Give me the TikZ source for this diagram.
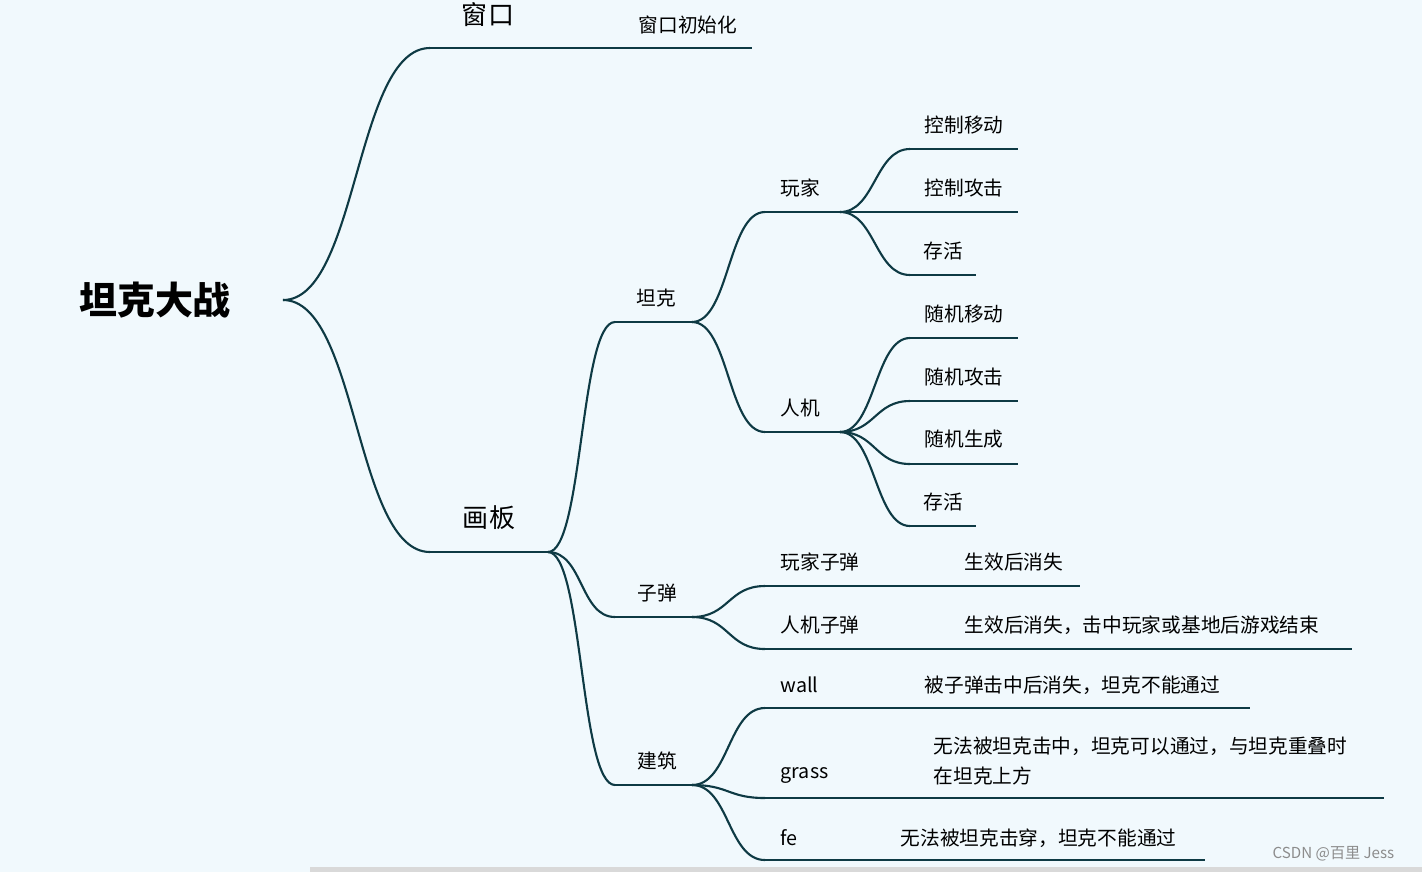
\documentclass[tikz,border=0pt]{standalone}
\usepackage{fontspec}
\setmainfont{Noto Sans CJK SC}
\usetikzlibrary{calc}
\definecolor{bg}{HTML}{F1F9FD}
\definecolor{ln}{HTML}{0E3A44}
\tikzset{
 br/.style={draw=ln,line width=0.6pt},
 lab/.style={inner sep=0pt,font=\fontsize{5.6}{6.8}\selectfont,text=black},
 llab/.style={lab,anchor=west},
}
\newcommand{\crv}[3]{\draw[br] (#1) .. controls ($(#1)+(#3,0)$) and ($(#2)-(#3,0)$) .. (#2);}
\begin{document}
\begin{tikzpicture}[x=0.01cm,y=-0.01cm]
\fill[bg] (0,0) rectangle (1422,872);
\useasboundingbox (0,0) rectangle (1422,872);
\fill[black!15] (310,867) rectangle (1422,872);
% root
\node[inner sep=0pt,font=\fontsize{10.8}{12}\selectfont\bfseries] (root) at (155,300) {坦克大战};
\coordinate (r0) at (283,300);
% level 1
\coordinate (w1) at (430,48); \coordinate (w2) at (752,48);
\coordinate (h1) at (430,552); \coordinate (h2) at (548,552);
\crv{r0}{w1}{75} \crv{r0}{h1}{75}
\draw[br] (w1)--(w2); \draw[br] (h1)--(h2);
\node[lab,font=\fontsize{7.4}{8}\selectfont] (win) at (488,15) {窗口};
\node[lab] (wininit) at (688,25) {窗口初始化};
\node[lab,font=\fontsize{7.4}{8}\selectfont] (hb) at (489,518) {画板};
% level 2
\coordinate (t1) at (615,322); \coordinate (t2) at (692,322);
\coordinate (z1) at (615,617); \coordinate (z2) at (692,617);
\coordinate (j1) at (615,785); \coordinate (j2) at (692,785);
\crv{h2}{t1}{35} \crv{h2}{z1}{35} \crv{h2}{j1}{35}
\draw[br] (t1)--(t2); \draw[br] (z1)--(z2); \draw[br] (j1)--(j2);
\node[lab] (tk) at (656,298) {坦克};
\node[lab] (zd) at (657,593) {子弹};
\node[lab] (jz) at (657,761) {建筑};
% level 3 tank
\coordinate (p1) at (765,212); \coordinate (p2) at (840,212);
\coordinate (a1) at (765,432); \coordinate (a2) at (840,432);
\crv{t2}{p1}{37} \crv{t2}{a1}{37}
\draw[br] (p1)--(p2); \draw[br] (a1)--(a2);
\node[lab] (wj) at (800,188) {玩家};
\node[lab] (rj) at (800,408) {人机};
% player children
\coordinate (pa) at (910,149); \coordinate (pa2) at (1018,149);
\coordinate (pb2) at (1018,212);
\coordinate (pc) at (910,275); \coordinate (pc2) at (976,275);
\crv{p2}{pa}{35} \crv{p2}{pc}{35}
\draw[br] (pa)--(pa2); \draw[br] (p2)--(pb2); \draw[br] (pc)--(pc2);
\node[lab] (kzyd) at (964,125) {控制移动};
\node[lab] (kzgj) at (964,188) {控制攻击};
\node[lab] (ch1) at (943,251) {存活};
% ai children
\coordinate (aa) at (910,338); \coordinate (aa2) at (1018,338);
\coordinate (ab) at (910,401); \coordinate (ab2) at (1018,401);
\coordinate (ac) at (910,464); \coordinate (ac2) at (1018,464);
\coordinate (ad) at (910,526); \coordinate (ad2) at (976,526);
\crv{a2}{aa}{35} \crv{a2}{ab}{35} \crv{a2}{ac}{35} \crv{a2}{ad}{35}
\draw[br] (aa)--(aa2); \draw[br] (ab)--(ab2); \draw[br] (ac)--(ac2); \draw[br] (ad)--(ad2);
\node[lab] (sjyd) at (964,314) {随机移动};
\node[lab] (sjgj) at (964,377) {随机攻击};
\node[lab] (sjsc) at (964,439) {随机生成};
\node[lab] (ch2) at (943,502) {存活};
% bullets
\coordinate (b1) at (765,586); \coordinate (b1e) at (1080,586);
\coordinate (b2) at (765,649); \coordinate (b2e) at (1352,649);
\crv{z2}{b1}{37} \crv{z2}{b2}{37}
\draw[br] (b1)--(b1e); \draw[br] (b2)--(b2e);
\node[llab] (wjzd) at (780,562) {玩家子弹};
\node[llab] (wjzdt) at (964,562) {生效后消失};
\node[llab] (rjzd) at (780,625) {人机子弹};
\node[llab] (rjzdt) at (964,625) {生效后消失，击中玩家或基地后游戏结束};
% buildings
\coordinate (c1) at (765,708); \coordinate (c1e) at (1250,708);
\coordinate (c2) at (765,798); \coordinate (c2e) at (1384,798);
\coordinate (c3) at (765,860); \coordinate (c3e) at (1205,860);
\crv{j2}{c1}{37} \crv{j2}{c2}{37} \crv{j2}{c3}{37}
\draw[br] (c1)--(c1e); \draw[br] (c2)--(c2e); \draw[br] (c3)--(c3e);
\node[llab] (wall) at (780,685) {wall};
\node[llab] (wallt) at (924,685) {被子弹击中后消失，坦克不能通过};
\node[llab] (grass) at (780,775) {grass};
\node[llab,align=left] (grasst) at (933,761) {无法被坦克击中，坦克可以通过，与坦克重叠时\\[1.5pt]在坦克上方};
\node[llab] (fe) at (780,838) {fe};
\node[llab] (fet) at (900,838) {无法被坦克击穿，坦克不能通过};
\node[llab,font=\fontsize{4.3}{5}\selectfont,text=black!45] (wm) at (1272,854) {CSDN @百里 Jess};
\end{tikzpicture}
\end{document}
